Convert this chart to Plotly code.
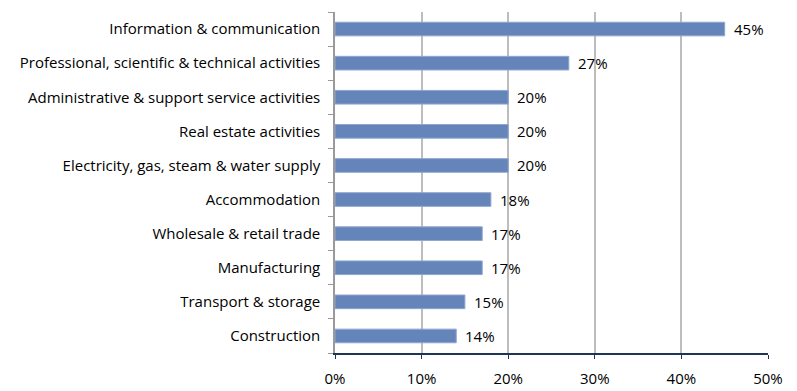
import plotly.graph_objects as go

categories = [
    "Information & communication",
    "Professional, scientific & technical activities",
    "Administrative & support service activities",
    "Real estate activities",
    "Electricity, gas, steam & water supply",
    "Accommodation",
    "Wholesale & retail trade",
    "Manufacturing",
    "Transport & storage",
    "Construction",
]
values = [45, 27, 20, 20, 20, 18, 17, 17, 15, 14]
value_labels = [f"{v}%" for v in values]
x_tickvals = [0, 10, 20, 30, 40, 50]
x_ticktext = ["0%", "10%", "20%", "30%", "40%", "50%"]

font_family = "Open Sans, Lato, sans-serif"
fsize = 15

fig = go.Figure(
    go.Bar(
        x=values,
        y=categories,
        orientation="h",
        width=0.4,
        marker=dict(color="#6584BA", line=dict(color="#8FA6CF", width=1)),
        hoverinfo="x+y",
    )
)

for cat, v, lab in zip(categories, values, value_labels):
    fig.add_annotation(
        x=v, y=cat, text=lab, showarrow=False,
        xanchor="left", yanchor="middle", xshift=7,
        font=dict(family=font_family, size=fsize, color="#000000"),
    )

# the page body has an 8px margin, so the figure is sized to fit inside it
fig.update_layout(
    width=789,
    height=383,
    margin=dict(l=327, r=29, t=4, b=38),
    plot_bgcolor="white",
    paper_bgcolor="white",
    showlegend=False,
    font=dict(family=font_family, size=fsize, color="#000000"),
)

fig.update_xaxes(
    range=[0, 50],
    tickvals=x_tickvals,
    ticktext=x_ticktext,
    showgrid=True,
    gridcolor="#BDBDBD",
    gridwidth=1.5,
    showline=True,
    linecolor="#1F3557",
    linewidth=1.5,
    ticks="outside",
    ticklen=4,
    tickcolor="#1F3557",
    tickfont=dict(family=font_family, size=fsize, color="#000000"),
    ticklabelstandoff=7,
    zeroline=False,
    fixedrange=True,
)

fig.update_yaxes(
    categoryorder="array",
    categoryarray=categories[::-1],
    showline=True,
    linecolor="#9A9A9A",
    linewidth=1.5,
    ticks="outside",
    ticklen=5,
    tickcolor="#9A9A9A",
    tickson="boundaries",
    tickfont=dict(family=font_family, size=fsize, color="#000000"),
    ticklabelstandoff=10,
    showgrid=False,
    fixedrange=True,
)

fig.write_html("out.html")
